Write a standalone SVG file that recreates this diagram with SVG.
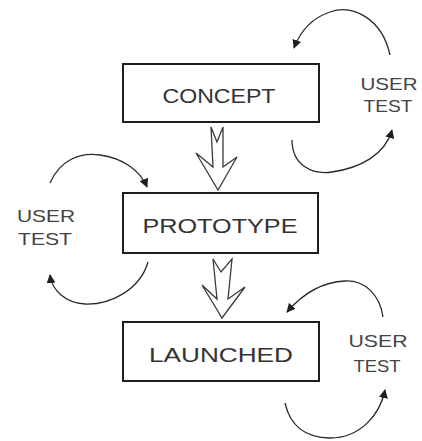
<svg xmlns="http://www.w3.org/2000/svg" width="422" height="441" viewBox="0 0 422 441">
  <style>
    .box { fill: #ffffff; stroke: #1e1e1e; stroke-width: 2; }
    .label { font-family: "Liberation Sans", Arial, sans-serif; font-size: 20px; fill: #333333; text-anchor: middle; }
    .side { font-family: "Liberation Sans", Arial, sans-serif; font-size: 17px; fill: #444444; text-anchor: middle; }
    .flow { fill: #ffffff; stroke: #3a3a3a; stroke-width: 1.3; stroke-linejoin: miter; }
    .loop { fill: none; stroke: #2a2a2a; stroke-width: 1.3; marker-end: url(#head); }
  </style>
  <defs>
    <marker id="head" viewBox="0 0 10 10" refX="9" refY="5" markerWidth="9" markerHeight="9" markerUnits="userSpaceOnUse" orient="auto">
      <path d="M0,0 L10,5 L0,10 Z" fill="#1e1e1e"/>
    </marker>
  </defs>
  <rect width="422" height="441" fill="#ffffff"/>

  <g id="connectors">
    <!-- hollow flow arrows between stages -->
    <polygon class="flow" points="211,127 217,142 223,127 223,167 237,157 218,190 196,153 213,167"/>
    <polygon class="flow" points="213,259 221,272 232,259 228,299 245,287 222,318 202,285 217,299"/>
    <!-- user test loops -->
    <path class="loop" d="M390,55 C382,18 352,4 330,12 C312,18 300,32 294,48"/>
    <path class="loop" d="M292,140 C292,165 312,175 332,172 C360,168 385,155 392,130"/>
    <path class="loop" d="M50,183 C60,160 80,152 100,155 C122,158 140,170 147,187"/>
    <path class="loop" d="M148,262 C140,290 110,305 85,304 C65,303 52,290 50,275"/>
    <path class="loop" d="M383,317 C380,295 365,280 345,281 C320,282 300,297 287,312"/>
    <path class="loop" d="M285,403 C290,425 305,438 330,438 C360,438 380,415 385,390"/>
  </g>

  <g id="concept">
    <rect class="box" x="123" y="64" width="196" height="58"/>
    <text class="label" x="219" y="103" textLength="113" lengthAdjust="spacingAndGlyphs">CONCEPT</text>
  </g>
  <g id="prototype">
    <rect class="box" x="123" y="193" width="195" height="60"/>
    <text class="label" x="220" y="233" textLength="155" lengthAdjust="spacingAndGlyphs">PROTOTYPE</text>
  </g>
  <g id="launched">
    <rect class="box" x="123" y="322" width="196" height="59"/>
    <text class="label" x="221" y="362" textLength="144" lengthAdjust="spacingAndGlyphs">LAUNCHED</text>
  </g>

  <g id="test-concept">
    <text class="side" x="389" y="90" textLength="57" lengthAdjust="spacingAndGlyphs">USER</text>
    <text class="side" x="388" y="112" textLength="49" lengthAdjust="spacingAndGlyphs">TEST</text>
  </g>
  <g id="test-prototype">
    <text class="side" x="46" y="222" textLength="58" lengthAdjust="spacingAndGlyphs">USER</text>
    <text class="side" x="45" y="245" textLength="54" lengthAdjust="spacingAndGlyphs">TEST</text>
  </g>
  <g id="test-launched">
    <text class="side" x="378" y="347" textLength="59" lengthAdjust="spacingAndGlyphs">USER</text>
    <text class="side" x="377" y="372" textLength="47" lengthAdjust="spacingAndGlyphs">TEST</text>
  </g>
</svg>
